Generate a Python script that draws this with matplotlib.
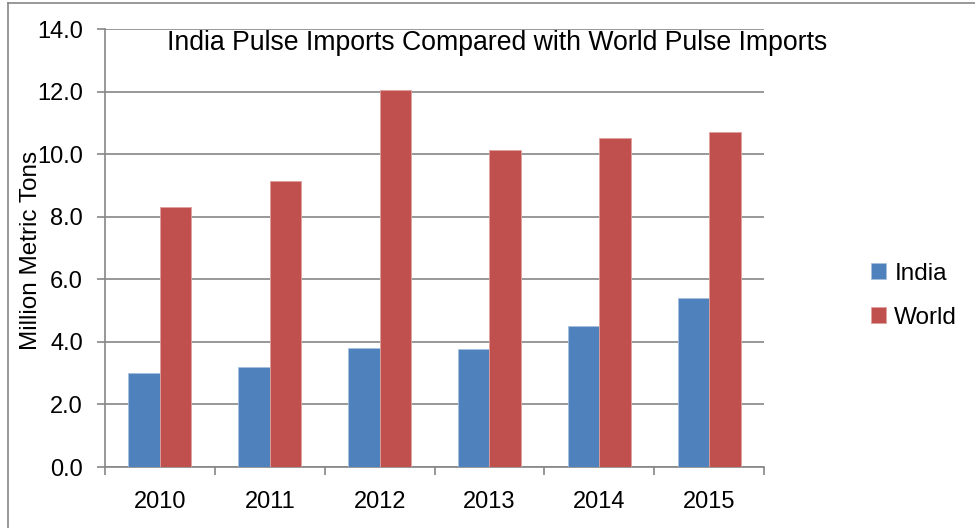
import matplotlib.pyplot as plt
from matplotlib.lines import Line2D
import numpy as np

plt.rcParams['font.family'] = ['Liberation Sans', 'DejaVu Sans']

years = ['2010', '2011', '2012', '2013', '2014', '2015']
india = [3.0, 3.2, 3.8, 3.78, 4.5, 5.4]
world = [8.3, 9.15, 12.04, 10.14, 10.52, 10.71]

INDIA_COLOR = '#4F81BD'
WORLD_COLOR = '#C0504D'
GRID = '#868686'

fig = plt.figure(figsize=(9.75, 5.28), dpi=100)
ax = fig.add_axes([0.1077, 0.1155, 0.676, 0.8295])

x = np.arange(len(years))
w = 0.287
ax.bar(x - w/2, india, w, color=INDIA_COLOR, edgecolor='#A7BFDE', linewidth=0.6, label='India', zorder=3)
ax.bar(x + w/2, world, w, color=WORLD_COLOR, edgecolor='#E0A09E', linewidth=0.6, label='World', zorder=3)

ax.set_xlim(-0.5, len(years) - 0.5)
ax.set_ylim(0, 14)
yt = np.arange(0, 14.1, 2)
ax.set_yticks(yt)
ax.set_yticklabels([f'{v:.1f}' for v in yt])
ax.set_xticks(x)
ax.set_xticklabels(years)
ax.set_xticks(np.arange(-0.5, len(years), 1), minor=True)
ax.tick_params(axis='x', which='major', length=0, pad=17, labelsize=17)
ax.tick_params(axis='x', which='minor', length=6, color=GRID, width=1.2)
ax.tick_params(axis='y', length=6, color=GRID, width=1.2, pad=10, labelsize=17)

ax.yaxis.grid(True, color=GRID, linewidth=1.2, zorder=0)
for s in ['top', 'right']:
    ax.spines[s].set_visible(False)
for s in ['left', 'bottom']:
    ax.spines[s].set_color(GRID)
    ax.spines[s].set_linewidth(1.2)

ax.set_ylabel('Million Metric Tons', fontsize=17.5)
ax.yaxis.set_label_coords(-0.096, 0.495)

fig.text(0.51, 0.918, 'India Pulse Imports Compared with World Pulse Imports',
         ha='center', va='center', fontsize=19.2)

fig.legend(loc='center left', bbox_to_anchor=(0.893, 0.44), frameon=False,
           fontsize=17.5, handlelength=0.62, handleheight=0.62, labelspacing=0.9,
           handletextpad=0.35, borderpad=0, borderaxespad=0)

# chart-area border (only left and top edges visible in the crop)
fig.add_artist(Line2D([8/975, 8/975], [0, 1 - 3/528], transform=fig.transFigure,
                      color=GRID, linewidth=1.2))
fig.add_artist(Line2D([8/975, 1], [1 - 3/528, 1 - 3/528], transform=fig.transFigure,
                      color=GRID, linewidth=1.2))

fig.savefig('out.png', dpi=100)
